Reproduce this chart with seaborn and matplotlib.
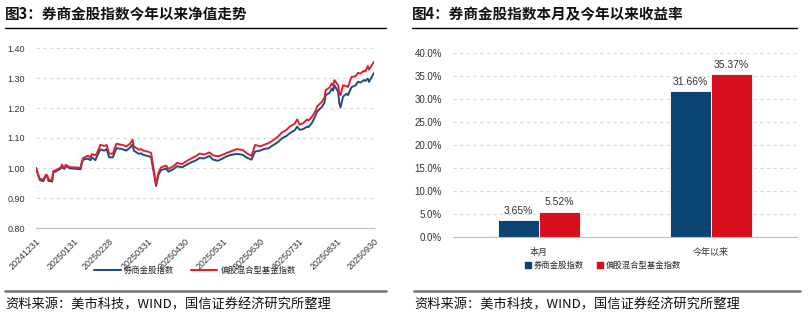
import matplotlib
matplotlib.use("Agg")
import matplotlib.pyplot as plt
import matplotlib.dates as mdates
from matplotlib.lines import Line2D
import seaborn as sns
import pandas as pd
import numpy as np

# ---------------- data ----------------
dates = ["2024-12-31", "2025-01-03", "2025-01-06", "2025-01-08", "2025-01-09", "2025-01-10",
         "2025-01-13", "2025-01-14", "2025-01-16", "2025-01-17", "2025-01-20", "2025-01-21",
         "2025-01-22", "2025-01-23", "2025-01-24", "2025-01-27", "2025-02-05", "2025-02-06",
         "2025-02-07", "2025-02-11", "2025-02-13", "2025-02-14", "2025-02-17", "2025-02-18",
         "2025-02-21", "2025-02-24", "2025-02-25", "2025-02-26", "2025-02-28", "2025-03-03",
         "2025-03-06", "2025-03-10", "2025-03-11", "2025-03-14", "2025-03-17", "2025-03-19",
         "2025-03-20", "2025-03-24", "2025-03-26", "2025-03-27", "2025-03-31", "2025-04-02",
         "2025-04-03", "2025-04-07", "2025-04-08", "2025-04-09", "2025-04-11", "2025-04-15",
         "2025-04-17", "2025-04-21", "2025-04-24", "2025-04-28", "2025-05-02", "2025-05-06",
         "2025-05-09", "2025-05-12", "2025-05-16", "2025-05-20", "2025-05-23", "2025-05-27",
         "2025-05-30", "2025-06-03", "2025-06-06", "2025-06-11", "2025-06-16", "2025-06-19",
         "2025-06-23", "2025-06-26", "2025-06-30", "2025-07-03", "2025-07-07", "2025-07-09",
         "2025-07-14", "2025-07-18", "2025-07-21", "2025-07-24", "2025-07-28", "2025-07-30",
         "2025-08-01", "2025-08-04", "2025-08-07", "2025-08-08", "2025-08-11", "2025-08-14",
         "2025-08-15", "2025-08-19", "2025-08-21", "2025-08-22", "2025-08-25", "2025-08-27",
         "2025-08-28", "2025-08-29", "2025-09-01", "2025-09-02", "2025-09-03", "2025-09-05",
         "2025-09-08", "2025-09-09", "2025-09-11", "2025-09-12", "2025-09-15", "2025-09-17",
         "2025-09-19", "2025-09-22", "2025-09-23", "2025-09-25", "2025-09-26", "2025-09-30"]

broker_index = [1.000, 0.960, 0.956, 0.975, 0.972, 0.957,
                0.955, 0.985, 0.989, 0.991, 0.998, 1.006,
                0.999, 0.997, 1.007, 0.999, 0.996, 1.015,
                1.028, 1.031, 1.026, 1.036, 1.026, 1.037,
                1.062, 1.058, 1.060, 1.063, 1.036, 1.035,
                1.066, 1.064, 1.062, 1.058, 1.068, 1.078,
                1.058, 1.047, 1.049, 1.045, 1.040, 1.038,
                1.035, 0.940, 0.960, 0.978, 0.993, 0.998,
                0.988, 0.996, 1.006, 1.002, 1.012, 1.020,
                1.025, 1.033, 1.032, 1.040, 1.028, 1.024,
                1.030, 1.039, 1.043, 1.047, 1.044, 1.035,
                1.028, 1.055, 1.058, 1.063, 1.066, 1.072,
                1.085, 1.100, 1.106, 1.116, 1.126, 1.138,
                1.127, 1.130, 1.138, 1.136, 1.151, 1.177,
                1.188, 1.204, 1.218, 1.243, 1.250, 1.265,
                1.258, 1.276, 1.254, 1.215, 1.202, 1.238,
                1.248, 1.243, 1.262, 1.270, 1.275, 1.287,
                1.285, 1.293, 1.290, 1.298, 1.287, 1.317]

fund_index = [1.000, 0.964, 0.961, 0.978, 0.976, 0.962,
              0.960, 0.990, 0.993, 0.995, 1.002, 1.011,
              1.003, 1.001, 1.011, 1.003, 1.001, 1.020,
              1.033, 1.041, 1.035, 1.046, 1.043, 1.048,
              1.077, 1.074, 1.074, 1.077, 1.048, 1.048,
              1.081, 1.077, 1.077, 1.072, 1.081, 1.094,
              1.072, 1.061, 1.063, 1.059, 1.055, 1.052,
              1.050, 0.945, 0.967, 0.985, 1.002, 1.008,
              0.997, 1.006, 1.017, 1.013, 1.024, 1.033,
              1.039, 1.048, 1.045, 1.052, 1.042, 1.039,
              1.043, 1.050, 1.055, 1.063, 1.060, 1.050,
              1.040, 1.077, 1.072, 1.077, 1.083, 1.088,
              1.103, 1.120, 1.126, 1.138, 1.148, 1.162,
              1.144, 1.150, 1.162, 1.158, 1.171, 1.193,
              1.205, 1.221, 1.235, 1.260, 1.268, 1.282,
              1.275, 1.293, 1.276, 1.250, 1.243, 1.276,
              1.272, 1.270, 1.295, 1.304, 1.305, 1.317,
              1.315, 1.324, 1.322, 1.340, 1.328, 1.354]

series_names = ["券商金股指数", "偏股混合型基金指数"]
month_ticks = ["2024-12-31", "2025-01-31", "2025-02-28", "2025-03-31", "2025-04-30",
               "2025-05-31", "2025-06-30", "2025-07-31", "2025-08-31", "2025-09-30"]

bar_categories = ["本月", "今年以来"]
bar_broker = [3.65, 31.66]
bar_fund = [5.52, 35.37]

title_left = "图3：券商金股指数今年以来净值走势"
title_right = "图4：券商金股指数本月及今年以来收益率"
source_text = "资料来源：美市科技，WIND，国信证券经济研究所整理"

# ---------------- style ----------------
sns.set_theme(style="white")
plt.rcParams['font.family'] = ['Noto Sans CJK SC', 'DejaVu Sans']
plt.rcParams['axes.unicode_minus'] = False

line_colors = ["#1F4E7C", "#E3202C"]
bar_colors = ["#0B4474", "#D70E1C"]
grid_color = "#D9D9D9"
spine_color = "#BFBFBF"

W, H = 808, 324
fig = plt.figure(figsize=(W / 100, H / 100), dpi=100)


def fx(px):
    return px / W


def fy(py):
    return 1 - py / H


# ---------------- left: line chart ----------------
axL = fig.add_axes([fx(36), fy(228), fx(374 - 36), (228 - 48) / H])
df_line = pd.DataFrame({
    "date": pd.to_datetime(dates * 2),
    "value": broker_index + fund_index,
    "series": [series_names[0]] * len(dates) + [series_names[1]] * len(dates),
})
sns.lineplot(data=df_line, x="date", y="value", hue="series", palette=line_colors,
             hue_order=series_names, linewidth=1.4, ax=axL, legend=False)
axL.set_xlim(pd.Timestamp("2024-12-31"), pd.Timestamp("2025-09-30"))
axL.set_ylim(0.80, 1.40)
axL.set_yticks(np.arange(0.80, 1.401, 0.10))
axL.set_yticklabels([f"{v:.2f}" for v in np.arange(0.80, 1.401, 0.10)], fontsize=6.5,
                    family=['Liberation Sans', 'DejaVu Sans'])
tick_dates = pd.to_datetime(month_ticks)
axL.set_xticks(tick_dates)
axL.set_xticklabels([d.strftime("%Y%m%d") for d in tick_dates], rotation=45, ha="right",
                    rotation_mode="anchor", fontsize=6.5, family=['Liberation Sans', 'DejaVu Sans'])
axL.set_xlabel("")
axL.set_ylabel("")
axL.yaxis.grid(True, linestyle=(0, (3, 3)), color=grid_color, linewidth=0.8)
axL.xaxis.grid(False)
for s in ["top", "right", "left"]:
    axL.spines[s].set_visible(False)
axL.spines["bottom"].set_color(spine_color)
axL.spines["bottom"].set_linewidth(0.8)
axL.tick_params(axis="x", which="major", length=4, color=spine_color, width=0.8, pad=2, colors="#333333")
axL.tick_params(axis="y", length=0, pad=8, colors="#333333")
for lab in axL.get_xticklabels():
    lab.set_color("#333333")

handlesL = [Line2D([0], [0], color=line_colors[0], lw=1.5),
            Line2D([0], [0], color=line_colors[1], lw=1.5)]
fig.legend(handlesL, series_names, loc="center", bbox_to_anchor=(fx(195), fy(270)), ncol=2,
           frameon=False, fontsize=6, handlelength=3.2, columnspacing=2.0, handletextpad=0.4)

# ---------------- right: bar chart ----------------
axR = fig.add_axes([fx(453), fy(237), fx(797 - 453), (237 - 53) / H])
df_bar = pd.DataFrame({
    "category": bar_categories * 2,
    "value": bar_broker + bar_fund,
    "series": [series_names[0]] * 2 + [series_names[1]] * 2,
})
sns.barplot(data=df_bar, x="category", y="value", hue="series", hue_order=series_names,
            order=bar_categories, palette=bar_colors, width=0.48, ax=axR, legend=False,
            saturation=1, edgecolor="white", linewidth=0.6)
axR.set_xlim(-0.5, 1.5)
axR.set_ylim(0, 40)
axR.set_yticks(np.arange(0, 40.1, 5))
axR.set_yticklabels([f"{v:.1f}%" for v in np.arange(0, 40.1, 5)], fontsize=7,
                    family=['Liberation Sans', 'DejaVu Sans'])
axR.set_xlabel("")
axR.set_ylabel("")
axR.set_xticks([0, 1])
axR.set_xticklabels(bar_categories, fontsize=6.5)
axR.set_xticks([-0.5, 0.5, 1.5], minor=True)
axR.tick_params(axis="x", which="major", length=0, pad=8, colors="#333333")
axR.tick_params(axis="x", which="minor", length=4, color=spine_color, width=0.8)
axR.tick_params(axis="y", length=0, pad=8, colors="#333333")
axR.yaxis.grid(True, linestyle=(0, (3, 3)), color=grid_color, linewidth=0.8)
axR.xaxis.grid(False)
axR.set_axisbelow(True)
for s in ["top", "right", "left"]:
    axR.spines[s].set_visible(False)
axR.spines["bottom"].set_color(spine_color)
axR.spines["bottom"].set_linewidth(0.8)
for cont in axR.containers:
    axR.bar_label(cont, labels=[f"{v:.2f}%" for v in cont.datavalues], padding=3, fontsize=7.5,
                  color="#333333", family=['Liberation Sans', 'DejaVu Sans'])

handlesR = [plt.Rectangle((0, 0), 1, 1, color=bar_colors[0]),
            plt.Rectangle((0, 0), 1, 1, color=bar_colors[1])]
fig.legend(handlesR, series_names, loc="center", bbox_to_anchor=(fx(603), fy(265)), ncol=2,
           frameon=False, fontsize=6, handlelength=0.7, handleheight=0.7, columnspacing=1.5,
           handletextpad=0.4)

# ---------------- titles, rules, sources ----------------
fig.text(fx(5), fy(14), title_left, fontsize=10.5, fontweight="bold", va="center", ha="left", color="#111111")
fig.text(fx(412), fy(14), title_right, fontsize=10.5, fontweight="bold", va="center", ha="left", color="#111111")
fig.add_artist(Line2D([fx(5), fx(386)], [fy(28), fy(28)], color="black", lw=1.0))
fig.add_artist(Line2D([fx(412), fx(797)], [fy(28), fy(28)], color="black", lw=1.0))
fig.add_artist(Line2D([fx(5), fx(386)], [fy(291), fy(291)], color="#808080", lw=2.0))
fig.add_artist(Line2D([fx(414), fx(800)], [fy(291), fy(291)], color="#808080", lw=2.0))
fig.text(fx(5), fy(305), source_text, fontsize=9.5, va="center", ha="left", color="#111111")
fig.text(fx(414), fy(305), source_text, fontsize=9.5, va="center", ha="left", color="#111111")

fig.savefig("out.png", dpi=100)
